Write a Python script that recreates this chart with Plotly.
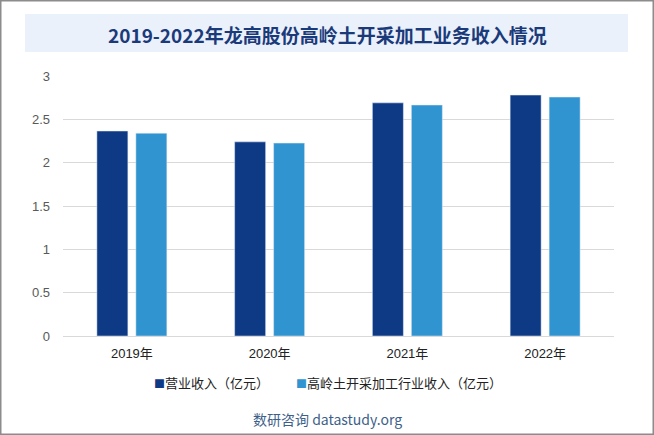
import plotly.graph_objects as go

years = ["2019年", "2020年", "2021年", "2022年"]
revenue = [2.365, 2.24, 2.69, 2.78]
kaolin = [2.34, 2.226, 2.665, 2.757]
series_names = ["营业收入（亿元）", "高岭土开采加工行业收入（亿元）"]
y_ticks = [0, 0.5, 1, 1.5, 2, 2.5, 3]
y_tick_text = ["0", "0.5", "1", "1.5", "2", "2.5", "3"]
colors = ["#0e3985", "#3094d1"]

W, H = 654, 435
L, R, T, B = 63, 40, 76, 99
pw, ph = W - L - R, H - T - B

def px(x):
    return (x - L) / pw

def py(y):
    return (H - B - y) / ph

fig = go.Figure()
fig.add_trace(go.Bar(x=years, y=revenue, name=series_names[0], marker_color=colors[0]))
fig.add_trace(go.Bar(x=years, y=kaolin, name=series_names[1], marker_color=colors[1]))

font_cjk = "Noto Sans CJK SC, Microsoft YaHei, sans-serif"

fig.update_layout(
    width=W, height=H,
    margin=dict(l=L, r=R, t=T, b=B),
    paper_bgcolor="white", plot_bgcolor="white",
    barmode="group", bargap=0.434, bargroupgap=0.205,
    showlegend=False,
    xaxis=dict(showgrid=False, showline=False, ticks="", ticklabelstandoff=8,
               tickfont=dict(family="Arial, Liberation Sans, " + font_cjk, size=13, color="#222")),
    yaxis=dict(range=[0, 3], tickvals=y_ticks, ticktext=y_tick_text,
               showgrid=True, gridcolor="#d9d9d9", gridwidth=1,
               zeroline=True, zerolinecolor="#d9d9d9", zerolinewidth=1,
               showline=False, ticks="", ticklabelstandoff=12,
               tickfont=dict(family="Arial, Liberation Sans, sans-serif", size=13, color="#595959")),
    font=dict(family=font_cjk),
)

# title box
fig.add_shape(type="rect", xref="paper", yref="paper",
              x0=px(25), x1=px(628), y0=py(52), y1=py(14),
              fillcolor="#eaf1fb", line=dict(width=0), layer="below")
fig.add_annotation(xref="paper", yref="paper", x=px(327), y=py(35),
                   text="<b>2019-2022年龙高股份高岭土开采加工业务收入情况</b>",
                   showarrow=False, xanchor="center", yanchor="middle",
                   font=dict(family=font_cjk, size=19, color="#1b3a7a"))
# manual legend
legend_x = [152, 294]
for name, color, lx in zip(series_names, colors, legend_x):
    fig.add_annotation(xref="paper", yref="paper", x=px(lx), y=py(382),
                       text=f"<span style='color:{color};font-size:11px'>■</span>{name}",
                       showarrow=False, xanchor="left", yanchor="middle",
                       font=dict(family=font_cjk, size=13, color="#222"))
# footer
fig.add_annotation(xref="paper", yref="paper", x=px(327), y=py(419),
                   text="数研咨询 datastudy.org", showarrow=False,
                   xanchor="center", yanchor="middle",
                   font=dict(family=font_cjk, size=14, color="#3e5f8a"))
# outer border
fig.add_shape(type="rect", xref="paper", yref="paper",
              x0=px(0.75), x1=px(653.25), y0=py(434.25), y1=py(0.75),
              line=dict(color="#8c8c8c", width=1.5), fillcolor="rgba(0,0,0,0)")

fig.write_html("out.html", config={"displayModeBar": False},
               post_script="document.body.style.margin='0';document.body.style.overflow='hidden';")
